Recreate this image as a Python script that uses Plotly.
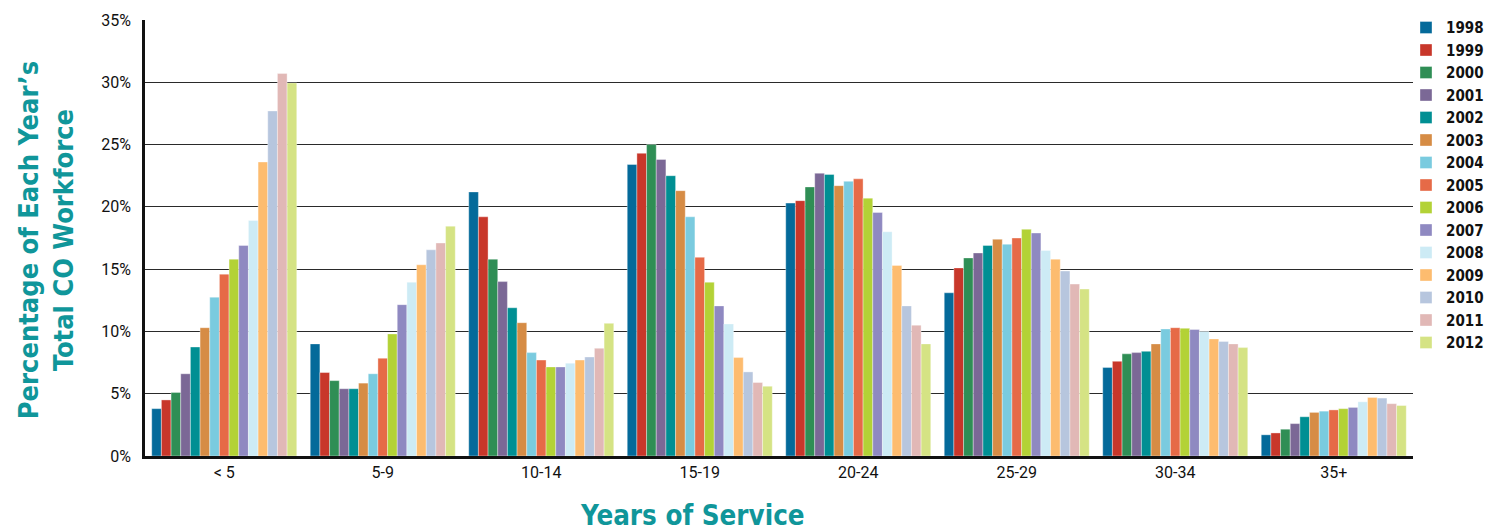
import plotly.graph_objects as go

categories = ["< 5", "5-9", "10-14", "15-19", "20-24", "25-29", "30-34", "35+"]
years = ["1998", "1999", "2000", "2001", "2002", "2003", "2004", "2005",
         "2006", "2007", "2008", "2009", "2010", "2011", "2012"]

# values per year, across categories (percent)
v1998 = [3.8, 9.0, 21.2, 23.4, 20.3, 13.1, 7.1, 1.7]
v1999 = [4.5, 6.7, 19.2, 24.3, 20.5, 15.1, 7.6, 1.85]
v2000 = [5.1, 6.05, 15.8, 25.0, 21.6, 15.9, 8.2, 2.15]
v2001 = [6.6, 5.4, 14.0, 23.8, 22.7, 16.3, 8.3, 2.6]
v2002 = [8.75, 5.4, 11.9, 22.5, 22.6, 16.9, 8.4, 3.15]
v2003 = [10.3, 5.85, 10.7, 21.3, 21.7, 17.4, 9.0, 3.5]
v2004 = [12.75, 6.6, 8.3, 19.2, 22.05, 17.0, 10.2, 3.6]
v2005 = [14.6, 7.85, 7.7, 15.95, 22.25, 17.5, 10.3, 3.7]
v2006 = [15.8, 9.8, 7.15, 13.95, 20.7, 18.2, 10.25, 3.8]
v2007 = [16.9, 12.15, 7.15, 12.05, 19.55, 17.9, 10.15, 3.9]
v2008 = [18.9, 13.95, 7.45, 10.6, 18.0, 16.5, 10.0, 4.35]
v2009 = [23.6, 15.35, 7.7, 7.9, 15.3, 15.8, 9.4, 4.7]
v2010 = [27.7, 16.55, 7.95, 6.75, 12.05, 14.85, 9.2, 4.65]
v2011 = [30.7, 17.1, 8.65, 5.9, 10.5, 13.8, 9.0, 4.2]
v2012 = [29.95, 18.45, 10.65, 5.6, 9.0, 13.4, 8.7, 4.05]

series = [v1998, v1999, v2000, v2001, v2002, v2003, v2004, v2005,
          v2006, v2007, v2008, v2009, v2010, v2011, v2012]

colors = ["#046A9A", "#C8372A", "#2F8E55", "#7B6896", "#008F93", "#D68C45",
          "#7ACBDF", "#E66A47", "#B3D236", "#8F89C1", "#CDEBF5", "#FDBC6F",
          "#B7C6DE", "#E1B8B6", "#D5E384"]

y_ticks = [0, 5, 10, 15, 20, 25, 30, 35]
y_tick_labels = ["0%", "5%", "10%", "15%", "20%", "25%", "30%", "35%"]

fig = go.Figure()
for yr, vals, col in zip(years, series, colors):
    fig.add_trace(go.Bar(
        x=categories, y=vals, name=yr,
        marker=dict(color=col, line=dict(color="rgba(255,255,255,0.6)", width=0.6)),
    ))

cond = "DejaVu Sans Condensed, Liberation Sans Narrow, Roboto, sans-serif"
tick_font = dict(family="Roboto, Liberation Sans, sans-serif", size=16, color="#111")
title_color = "#10969A"

W = 1489 - 145  # paper width (r margin = 0)
H = 531 - 20 - 75

fig.update_layout(
    width=1489, height=531,
    margin=dict(l=145, r=0, t=20, b=75),
    paper_bgcolor="white", plot_bgcolor="white",
    barmode="group", bargap=0.085, bargroupgap=0,
    showlegend=True,
    legend=dict(
        x=1.0, y=1.02, xanchor="right", yanchor="top",
        font=dict(family=cond, size=15, color="#111", weight="bold"),
        tracegroupgap=0, itemwidth=30, bgcolor="rgba(0,0,0,0)",
        maxheight=600,
    ),
    xaxis=dict(
        domain=[0, (1413 - 145) / W],
        showline=True, linecolor="#111", linewidth=2.5,
        ticks="", tickfont=tick_font, showgrid=False,
    ),
    yaxis=dict(
        range=[0, 35], tickvals=y_ticks, ticktext=y_tick_labels,
        showline=True, linecolor="#111", linewidth=2.5,
        ticks="", tickfont=tick_font, ticklabelstandoff=8,
        showgrid=True, gridcolor="#2a2a2a", gridwidth=1.4,
        zeroline=False,
    ),
    annotations=[
        dict(text="<b>Years of Service</b>", xref="paper", yref="paper",
             x=(692 - 145) / W, y=-(497 - 456) / H, xanchor="center", yanchor="top",
             showarrow=False, font=dict(family=cond, size=27.5, color=title_color)),
        dict(text="<b>Percentage of Each Year’s<br>Total CO Workforce</b>",
             xref="paper", yref="paper", x=(46 - 145) / W, y=0.495,
             xanchor="center", yanchor="middle",
             textangle=-90, showarrow=False,
             font=dict(family=cond, size=27, color=title_color)),
    ],
)

fig.write_html("out.html")
